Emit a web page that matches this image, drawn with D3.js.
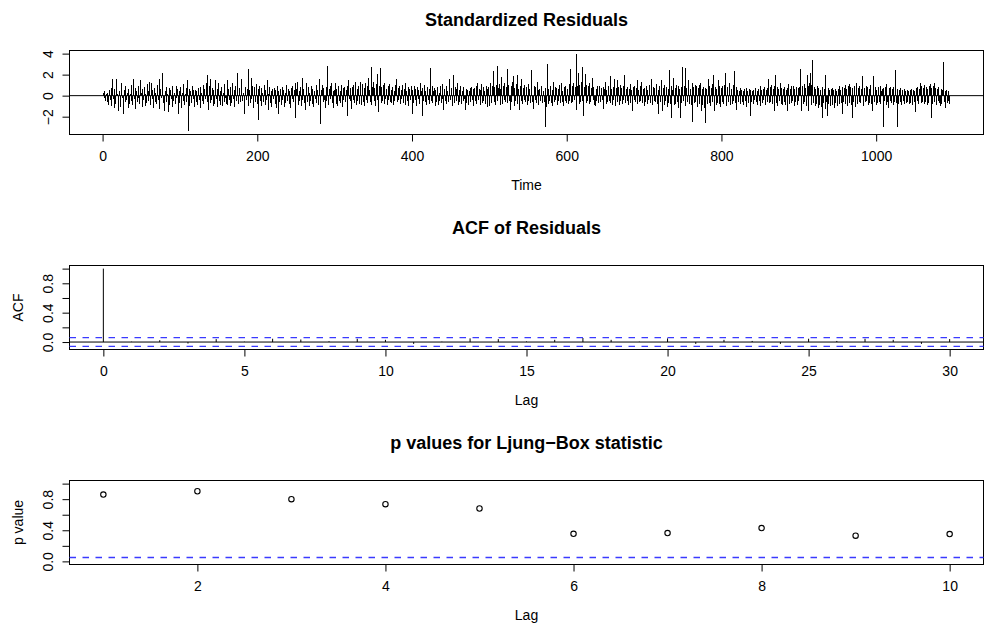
<!DOCTYPE html>
<html>
<head>
<meta charset="utf-8">
<script src="https://cdn.jsdelivr.net/npm/d3@7"></script>
<style>
	body { margin: 0; background: #fff; }
	svg { font-family: "Liberation Sans", Arial, Helvetica, sans-serif; }
</style>
</head>
<body>
<div id="chart"></div>
<script>
// standardized residuals (t = 1 .. 1095)
const residuals = [
	0.3, -0.2, 0.4, -0.5, 0.2, -0.6, 0.3, -0.9, 0.5, -0.4, 0.7, -1.0, 1.6, -0.3, -1.2, 0.6, -0.8, 1.6, 0.2, -1.5,
	-0.7, 0.4, -1.1, 0.8, 1.2, -0.2, -1.7, 0.5, -0.6, 0.9, -0.4, 0.3, -1.2, 0.6, -0.8, 0.2, -0.5, 1.0, -0.9, 1.6,
	-0.3, 0.7, -1.3, 0.4, -0.6, 0.9, -0.2, -0.8, 1.5, 0.3, -1.1, 0.6, -0.4, 0.8, -1.0, 0.2, -0.7, 1.1, -0.5, 0.4,
	1.3, -0.9, 1.2, -0.3, 0.5, -1.2, 0.7, -0.6, 0.3, -0.8, 1.0, -0.4, 1.6, -1.3, 0.6, -0.2, 0.9, 2.2, -0.7, -1.5,
	0.4, -0.6, 0.8, 0.2, -1.6, 0.7, -0.9, 0.5, -0.3, -1.1, 0.9, -0.5, 0.3, -0.8, 0.9, -0.2, 0.6, -1.7, 0.4, -0.7,
	0.8, -1.2, 0.3, -0.5, 1.1, -0.9, 0.2, -0.6, 0.7, 1.5, -3.4, 0.6, -1.0, 0.4, -0.7, 0.9, -0.3, 0.5, -1.1, 0.5,
	-0.6, 0.4, -0.9, 0.7, -0.4, 0.8, -1.2, 0.3, -0.5, 1.0, -0.8, 0.6, -0.3, 1.2, 2.0, -0.6, -1.4, 0.9, -0.7, 1.6,
	-0.4, 0.7, -1.0, 0.5, -0.8, 1.5, -0.3, 0.6, -1.1, 1.2, -0.5, 0.4, -0.9, 0.8, -1.0, 0.3, -0.6, 1.1, -0.2, -0.8,
	1.5, -0.9, 0.6, -0.4, -1.0, 0.8, -0.7, 1.2, -0.3, 0.5, -1.1, 0.9, -0.5, 0.4, 2.2, -0.8, 0.7, -0.6, 1.0, 1.6,
	-0.5, 0.3, -0.9, -1.7, 0.8, -0.4, 0.6, 2.5, -1.0, 0.5, -0.7, 1.7, -0.3, 0.9, -1.2, 0.4, 0.8, -0.6, 1.1, -0.8,
	0.6, -2.3, 0.9, -0.5, 0.7, -1.0, 0.3, -0.6, 1.0, -0.9, 0.5, -0.4, 1.5, 0.2, -1.4, 0.8, -0.7, 0.4, -1.1, 0.6,
	-0.3, 0.7, -0.8, 0.5, -1.2, 0.9, -1.7, 0.4, -0.6, 0.6, -0.9, 0.8, -0.4, 0.5, -1.1, 0.3, -0.7, 1.0, -0.5, 0.6,
	-0.8, 0.4, -1.2, 0.7, -0.3, 0.9, -0.6, 0.5, 1.2, -2.1, 0.6, 1.3, -0.9, 0.4, -0.5, 0.8, -1.0, 1.7, -0.4, 0.6,
	-0.7, -1.4, 0.5, 1.2, -0.6, 0.8, -1.0, 0.3, -0.5, 0.9, -0.8, 0.6, -1.1, 0.4, -0.3, 1.0, -0.7, 0.5, -0.9, 0.7,
	1.6, -2.7, 0.5, 1.0, -0.6, 0.7, -0.4, -1.2, 0.8, -0.5, 2.8, -0.9, 0.6, -0.3, 0.9, 1.2, -0.7, 0.4, -1.2, 0.5,
	1.2, -0.8, 0.6, -1.0, 0.9, -0.5, 0.4, -0.7, 1.0, -1.1, 0.7, -0.4, 0.8, -0.6, 0.5, -1.9, 0.9, 1.5, -0.3, 0.7,
	-0.5, -1.3, 0.8, -0.4, 1.0, -0.7, 1.3, -0.9, 0.6, -0.5, 0.9, -0.8, 1.3, 0.4, -0.9, 1.1, -0.6, 0.7, -1.0, 1.2,
	-0.4, 0.9, -0.7, 1.7, 0.5, -0.6, 2.7, -0.9, 0.8, 1.3, -0.5, 0.7, -1.0, 1.1, 2.1, -0.4, -1.6, 0.9, 2.6, -0.7,
	0.8, -0.5, 1.0, -0.8, 1.2, -0.3, 0.6, -0.9, 0.9, -0.4, 1.1, -0.6, 0.5, -0.7, 0.8, -0.9, 0.4, -0.5, 1.0, 1.6,
	-0.6, 0.7, -0.4, 0.9, -0.8, 0.5, -0.3, 1.0, -0.7, 0.6, 1.2, -0.9, 0.4, -0.5, 0.8, -1.0, 0.6, -0.4, 0.9, -1.7,
	0.5, -0.7, 0.9, -0.4, 0.6, -1.0, 0.8, -0.3, 0.5, -0.8, 1.25, 0.4, -1.9, 0.7, -0.5, 1.0, -0.6, 0.4, -0.9, 0.8,
	-0.4, 0.6, -0.8, 2.6, -0.5, 0.9, -0.7, 0.4, 0.7, -1.0, 0.5, -0.6, 0.8, -0.9, 0.3, -0.5, 0.9, -0.7, 1.1, -0.3,
	-1.4, 0.6, -0.5, 0.9, -0.8, 0.4, -0.6, 1.0, 1.6, -0.4, 0.7, -1.0, 0.5, 2.0, -0.7, 0.8, -0.5, 0.6, 1.2, -0.9,
	0.5, -0.6, 0.9, -0.8, 0.4, -0.5, 0.8, -0.3, -1.4, 0.6, -0.7, 0.5, -0.9, 0.4, 0.7, -0.6, 0.8, -0.4, 0.6, -1.0,
	0.7, -0.5, 0.9, -0.8, 1.2, -0.4, 0.6, -0.9, 0.5, 1.1, -0.7, 0.8, -0.5, 0.4, -0.8, 0.9, -1.1, 0.6, 0.8, -1.0,
	0.5, 1.2, -0.7, 0.9, 2.3, -0.6, 0.8, -0.9, 1.0, 2.8, -0.5, 0.7, 1.1, -0.9, 0.6, 1.8, -0.8, 0.9, -0.4, 1.2,
	-0.6, 0.8, 2.5, -0.7, 1.0, -0.5, -1.4, 0.9, -0.6, 1.3, 1.9, -1.0, 0.7, -0.5, 1.1, 2.0, -0.8, 0.6, -1.4, 0.9,
	-0.5, 1.6, -0.8, 0.7, -0.4, 1.0, -0.6, 0.8, -0.9, 1.1, -0.5, 0.6, -0.7, 2.4, 0.5, -0.6, -1.3, 0.9, -0.4, 0.8,
	-0.7, 1.3, 0.5, -0.9, 0.6, -0.5, 0.8, 0.9, -0.7, 0.4, -0.6, 0.7, -3.0, -1.1, 3.0, -0.8, 0.6, -0.5, 0.9, -0.7,
	0.5, -1.0, 1.3, -0.6, 0.8, -0.4, 0.7, -0.9, 0.6, -0.5, 1.0, -0.7, 1.25, 0.4, -0.6, -1.0, 0.8, -0.5, 0.9, -0.7,
	0.6, -0.8, 1.1, -0.5, 2.5, -0.7, 0.9, -0.6, 1.2, -0.4, 0.8, 4.0, -1.4, 0.9, 2.2, -0.8, 1.0, -0.6, 1.3, 2.7,
	-0.5, -1.9, 0.8, 2.1, -0.7, 1.0, -0.5, 0.9, -0.8, 1.2, -0.6, 0.7, 1.7, -0.4, 0.8, -0.9, -1.0, 0.6, -0.5, 0.9,
	-0.7, 0.5, 0.9, -0.6, 0.7, -0.4, 0.8, -1.3, 0.6, 1.3, -0.8, 0.5, -0.6, 0.9, -0.5, 1.9, -0.7, 0.6, -0.9, 0.8,
	-0.4, 1.6, -1.0, 0.7, 1.5, -0.6, 0.8, -0.9, 1.0, -0.5, 0.7, -0.8, 0.9, -0.4, 2.0, -0.7, 0.6, -0.5, 0.8, -0.9,
	0.6, 1.1, -0.7, 0.5, -1.5, 0.8, -0.4, 0.9, -0.6, 0.7, 1.5, -0.8, 0.5, -0.6, 0.9, -0.5, 1.3, -0.7, 0.6, -1.0,
	0.7, -0.6, 0.9, -0.8, 0.5, -0.4, 1.0, -0.7, 0.6, 1.6, -0.9, 0.8, -0.5, 0.7, -0.6, 1.1, -0.8, 0.5, -1.7, 0.9,
	-0.6, 0.8, 1.5, -1.5, 0.7, -0.9, 1.0, -0.5, 0.8, -1.1, 0.6, -0.7, 2.45, -0.8, 0.9, -2.1, 0.5, 1.7, -0.9, 0.7,
	-0.8, 1.0, -0.6, 0.9, -1.2, 0.6, -2.1, 0.8, -0.7, 2.7, -0.5, 0.9, 2.6, -1.0, 0.7, -0.6, 1.1, 1.5, -0.8, 0.6,
	-0.9, 1.2, -2.5, 0.8, -0.7, 1.0, -0.6, 0.9, -1.1, 0.7, -0.8, 1.0, 1.25, -1.5, 0.6, -0.9, 0.8, -1.2, 0.7, -2.6,
	0.6, -0.8, 1.6, -0.7, 0.9, -1.0, 0.7, -0.6, 1.1, 2.0, -1.5, 0.8, -0.9, 0.6, -0.7, 1.5, -0.8, 0.9, -1.1, 0.7,
	-0.6, 0.9, -0.8, 1.0, 2.2, -0.7, -1.0, 0.8, -0.6, 0.7, 1.25, -0.9, 0.6, -0.8, 1.0, -0.5, 2.3, -0.7, 0.8, -1.4,
	0.5, -0.6, 0.4, 0.7, -0.8, 0.5, -0.6, 0.4, -0.9, 0.6, -0.5, 0.7, -1.1, 0.4, -0.7, 0.6, -1.9, 0.5, -0.6, 0.4,
	-0.8, 0.5, -0.4, 0.7, -0.6, 0.4, -0.9, 0.6, -0.5, 0.9, -1.0, 0.5, -0.7, 0.6, -0.4, 0.8, -0.9, 0.5, -0.6, 0.7,
	1.6, -0.7, 0.8, -0.6, 1.0, -0.8, 0.6, -1.5, 0.9, 2.0, -0.7, 0.8, -1.0, 0.6, -0.5, 1.25, -0.8, 0.7, -0.9, 0.6,
	-0.6, 0.8, -0.9, 0.5, -1.5, 0.7, 1.1, -0.8, 0.6, -0.7, 0.9, -0.5, 0.9, -1.0, 0.6, -0.6, 0.8, -0.9, 0.7, -0.5,
	0.8, 2.5, -0.7, -1.5, 0.9, -0.8, 1.1, -0.6, 0.7, -1.0, 2.0, 0.9, -1.5, 1.2, 2.2, -0.9, 1.0, 3.4, -0.7, 0.8,
	-1.0, 0.6, -0.8, 0.9, -1.2, 0.7, -0.9, 0.5, -1.1, -2.1, 0.8, -0.7, 0.6, -1.3, 2.0, -0.6, -1.9, 0.7, -0.8, 0.5,
	-1.0, 0.6, 0.7, -0.9, 0.5, -1.2, 0.6, -0.7, 0.4, -1.0, 0.6, 0.9, -0.8, 0.5, -0.7, -1.7, 0.8, -0.6, 0.7, 1.0,
	-0.8, 0.6, -1.0, 0.9, 1.1, -0.7, 0.8, -0.9, -2.1, 0.7, -0.6, 0.9, -1.1, 0.5, 1.25, -0.8, 0.7, -0.6, 0.9, -0.7,
	0.6, 1.9, -0.8, -1.0, 0.7, -0.6, 0.9, -0.5, 0.8, -0.9, 0.6, -0.7, 1.0, -0.8, -1.5, 0.7, 1.9, -0.6, 0.8, -0.9,
	0.5, -0.7, 0.8, -0.6, 0.9, -0.8, 0.4, 0.6, -3.0, 0.7, -0.5, 0.8, -0.9, 1.1, -0.6, -1.2, 0.7, -0.5, 0.8, -0.7,
	0.6, -0.9, 0.8, -0.6, 2.4, -0.7, -3.0, 0.6, -0.8, 0.5, -0.6, 0.7, -0.9, 0.5, -0.5, 0.6, -0.8, 0.4, -0.7, 0.5,
	-0.6, 0.4, -0.8, 0.5, -0.7, 0.6, -0.9, 0.5, -0.6, 0.4, -1.6, 0.7, -0.5, 0.8, -0.8, 0.6, 1.25, -0.7, 0.9, -0.6,
	0.7, -0.8, 1.0, -0.6, 0.8, -0.9, 0.6, -0.7, 0.9, 1.1, -2.1, 0.7, -0.8, 0.9, 1.2, -0.6, 0.7, -0.9, 0.6, -0.5,
	0.8, -0.7, -1.0, 0.6, -0.8, 0.5, 3.2, -0.6, 0.4, -1.2, 0.5, -0.7, 0.4, -0.5, -0.8
];
const residTicksX = [0, 200, 400, 600, 800, 1000];
const residTicksY = [-2, 0, 2, 4];

// autocorrelation of the residuals
const acfLags = [0, 1, 2, 3, 4, 5, 6, 7, 8, 9, 10, 11, 12, 13, 14, 15, 16, 17, 18, 19, 20, 21, 22, 23, 24, 25, 26, 27, 28, 29, 30];
const acfValues = [1, 0.005, 0.025, -0.02, 0.04, 0.005, 0.045, 0.035, 0.01, 0.045, 0.03, -0.025, 0.005, 0.05, 0.04, 0.008,
	0.03, 0.055, 0.03, 0.005, 0.05, -0.025, 0.03, 0.015, -0.025, 0.045, 0.015, 0.045, 0.03, -0.025, 0.04];
const acfTicksX = [0, 5, 10, 15, 20, 25, 30];
const acfTicksY = [0, 0.2, 0.4, 0.6, 0.8, 1.0];
const acfLabelsY = [0, 0.4, 0.8];
const acfBound = 0.0592;

// Ljung-Box p values
const lbLags = [1, 2, 3, 4, 5, 6, 7, 8, 9, 10];
const lbPValues = [0.859, 0.902, 0.80, 0.736, 0.68, 0.355, 0.364, 0.428, 0.33, 0.351];
const lbTicksX = [2, 4, 6, 8, 10];
const lbTicksY = [0, 0.2, 0.4, 0.6, 0.8, 1.0];
const lbLabelsY = [0, 0.4, 0.8];
const lbLevel = 0.05;

const width = 986, height = 623;
const left = 69.5, right = 983.5, boxH = 84;
const blue = "#3a3aff";

const svg = d3.select("#chart").append("svg")
	.attr("width", width)
	.attr("height", height);

// R style axis limits, 4% padding
function rlim(lo, hi) {
	const pad = (hi - lo) * 0.04;
	return [lo - pad, hi + pad];
}

function drawPanel(o) {
	const g = svg.append("g");
	const x = d3.scaleLinear().domain(o.xlim).range([left, right]);
	const y = d3.scaleLinear().domain(o.ylim).range([o.top + boxH, o.top]);

	// title
	g.append("text")
		.attr("x", (left + right) / 2)
		.attr("y", o.titleY)
		.attr("text-anchor", "middle")
		.style("font-weight", "bold")
		.style("font-size", "18px")
		.text(o.title);

	// x axis
	const xa = g.append("g")
		.attr("transform", "translate(0," + (o.top + boxH) + ")")
		.call(d3.axisBottom(x)
			.tickValues(o.xticks)
			.tickSize(7)
			.tickPadding(10)
			.tickFormat(d3.format("d")));
	xa.attr("font-size", 14).attr("font-family", null);
	xa.select(".domain").remove();

	g.append("text")
		.attr("x", (left + right) / 2)
		.attr("y", o.top + boxH + 55)
		.attr("text-anchor", "middle")
		.style("font-size", "14px")
		.text(o.xlab);

	// y axis, labels parallel to the axis
	const ya = g.append("g")
		.attr("transform", "translate(" + left + ",0)")
		.call(d3.axisLeft(y)
			.tickValues(o.yticks)
			.tickSize(7)
			.tickFormat(d => o.ylabels.includes(d) ? o.yfmt(d) : ""));
	ya.attr("font-size", 14).attr("font-family", null);
	ya.select(".domain").remove();
	ya.selectAll(".tick text")
		.attr("transform", "rotate(-90)")
		.attr("x", 0)
		.attr("y", -17)
		.attr("dy", 0)
		.attr("text-anchor", "middle");

	if (o.ylab) {
		g.append("text")
			.attr("transform", "translate(23," + (o.top + boxH / 2) + ") rotate(-90)")
			.attr("text-anchor", "middle")
			.style("font-size", "14px")
			.text(o.ylab);
	}

	// plot box
	g.append("rect")
		.attr("x", left)
		.attr("y", o.top)
		.attr("width", right - left)
		.attr("height", boxH)
		.attr("fill", "none")
		.attr("stroke", "#000");

	return { g, x, y };
}

// panel 1: standardized residuals
const p1 = drawPanel({
	top: 50.5, titleY: 26, title: "Standardized Residuals", xlab: "Time",
	xlim: rlim(1, residuals.length), ylim: rlim(d3.min(residuals), d3.max(residuals)),
	xticks: residTicksX, yticks: residTicksY, ylabels: residTicksY, yfmt: d3.format("d")
});
p1.g.selectAll("line.spike")
	.data(residuals)
	.enter().append("line")
	.attr("class", "spike")
	.attr("x1", (d, i) => p1.x(i + 1))
	.attr("x2", (d, i) => p1.x(i + 1))
	.attr("y1", p1.y(0))
	.attr("y2", d => p1.y(d))
	.attr("stroke", "#000")
	.attr("stroke-width", 1)
	.attr("shape-rendering", "crispEdges");
p1.g.append("line")
	.attr("x1", left).attr("x2", right)
	.attr("y1", p1.y(0)).attr("y2", p1.y(0))
	.attr("stroke", "#000");

// panel 2: ACF of residuals
const p2 = drawPanel({
	top: 265.5, titleY: 234, title: "ACF of Residuals", xlab: "Lag", ylab: "ACF",
	xlim: rlim(0, 30), ylim: rlim(Math.min(-acfBound, d3.min(acfValues)), 1),
	xticks: acfTicksX, yticks: acfTicksY, ylabels: acfLabelsY, yfmt: d3.format(".1f")
});
p2.g.selectAll("line.acf")
	.data(acfValues)
	.enter().append("line")
	.attr("class", "acf")
	.attr("x1", (d, i) => p2.x(acfLags[i]))
	.attr("x2", (d, i) => p2.x(acfLags[i]))
	.attr("y1", p2.y(0))
	.attr("y2", d => p2.y(d))
	.attr("stroke", "#000");
p2.g.append("line")
	.attr("x1", left).attr("x2", right)
	.attr("y1", p2.y(0)).attr("y2", p2.y(0))
	.attr("stroke", "#000");
[acfBound, -acfBound].forEach(b => {
	p2.g.append("line")
		.attr("x1", left).attr("x2", right)
		.attr("y1", p2.y(b)).attr("y2", p2.y(b))
		.attr("stroke", blue)
		.attr("stroke-width", 1.3)
		.attr("stroke-dasharray", "6.5,6.5");
});

// panel 3: Ljung-Box p values
const p3 = drawPanel({
	top: 480.5, titleY: 449, title: "p values for Ljung\u2212Box statistic", xlab: "Lag", ylab: "p value",
	xlim: rlim(1, 10), ylim: rlim(0, 1),
	xticks: lbTicksX, yticks: lbTicksY, ylabels: lbLabelsY, yfmt: d3.format(".1f")
});
p3.g.append("line")
	.attr("x1", left).attr("x2", right)
	.attr("y1", p3.y(lbLevel)).attr("y2", p3.y(lbLevel))
	.attr("stroke", blue)
	.attr("stroke-width", 1.3)
	.attr("stroke-dasharray", "6.5,6.5");
p3.g.selectAll("circle.pv")
	.data(lbPValues)
	.enter().append("circle")
	.attr("class", "pv")
	.attr("cx", (d, i) => p3.x(lbLags[i]))
	.attr("cy", d => p3.y(d))
	.attr("r", 2.7)
	.attr("fill", "none")
	.attr("stroke", "#000")
	.attr("stroke-width", 1.1);
</script>
</body>
</html>
